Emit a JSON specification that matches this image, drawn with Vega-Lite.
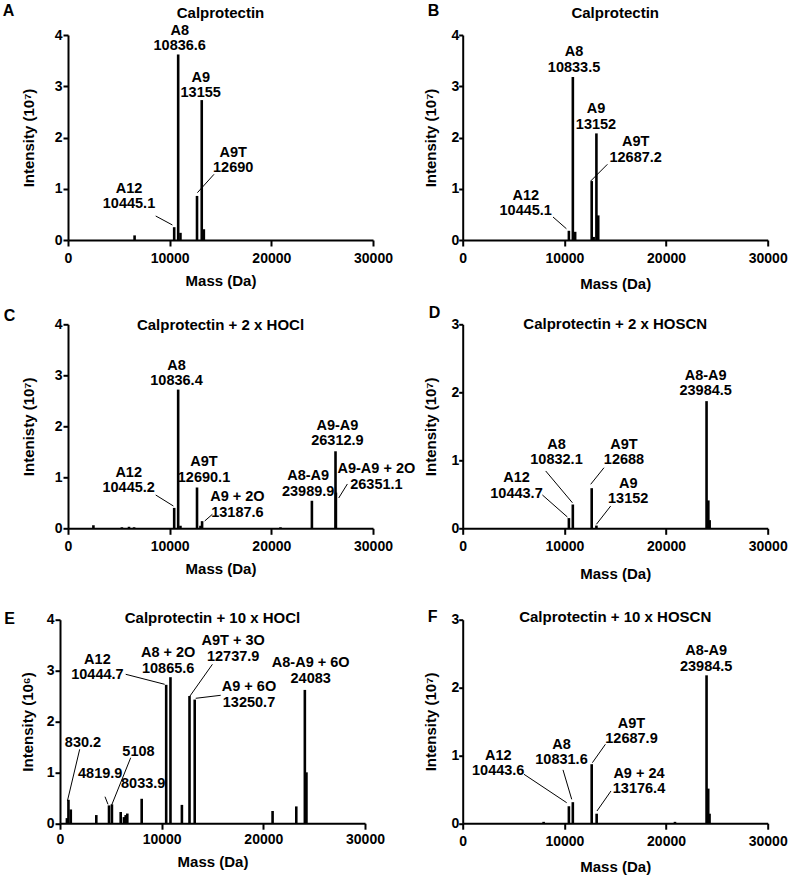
{
  "$schema": "https://vega.github.io/schema/vega-lite/v6.json",
  "padding": {"left": 2, "top": 2, "right": 2, "bottom": 2},
  "config": {
    "view": {"stroke": null},
    "font": "Liberation Sans",
    "axis": {"domainColor": "black", "domainWidth": 2, "tickColor": "black", "tickWidth": 2, "grid": false,
      "labelFont": "Liberation Sans", "labelFontSize": 14, "labelFontWeight": "bold", "labelColor": "black",
      "titleFont": "Liberation Sans", "titleFontSize": 15, "titleFontWeight": "bold", "titleColor": "black",
      "labelFlush": false, "labelOverlap": false},
    "axisX": {"tickSize": 6, "labelPadding": 5, "titlePadding": 8},
    "text": {"font": "Liberation Sans", "fontWeight": "bold", "fontSize": 14.5, "color": "black"}
  },
  "datasets": {
    "peaks": [
      {"panel": "A", "mass": 6550, "intensity": 0.09}, {"panel": "A", "mass": 10445, "intensity": 0.25}, {"panel": "A", "mass": 10837, "intensity": 3.62}, {"panel": "A", "mass": 11060, "intensity": 0.14}, {"panel": "A", "mass": 12690, "intensity": 0.86}, {"panel": "A", "mass": 13155, "intensity": 2.73}, {"panel": "A", "mass": 13360, "intensity": 0.21},
      {"panel": "B", "mass": 10445, "intensity": 0.18}, {"panel": "B", "mass": 10834, "intensity": 3.18}, {"panel": "B", "mass": 11060, "intensity": 0.16}, {"panel": "B", "mass": 12687, "intensity": 1.15}, {"panel": "B", "mass": 12880, "intensity": 0.06}, {"panel": "B", "mass": 13152, "intensity": 2.08}, {"panel": "B", "mass": 13330, "intensity": 0.48},
      {"panel": "C", "mass": 2500, "intensity": 0.06}, {"panel": "C", "mass": 5300, "intensity": 0.02}, {"panel": "C", "mass": 6000, "intensity": 0.03}, {"panel": "C", "mass": 6500, "intensity": 0.02}, {"panel": "C", "mass": 10445, "intensity": 0.4}, {"panel": "C", "mass": 10836, "intensity": 2.72}, {"panel": "C", "mass": 11060, "intensity": 0.05}, {"panel": "C", "mass": 12690, "intensity": 0.8}, {"panel": "C", "mass": 13030, "intensity": 0.05}, {"panel": "C", "mass": 13188, "intensity": 0.14}, {"panel": "C", "mass": 20900, "intensity": 0.02}, {"panel": "C", "mass": 23990, "intensity": 0.54}, {"panel": "C", "mass": 26313, "intensity": 1.51}, {"panel": "C", "mass": 26351, "intensity": 0.7},
      {"panel": "D", "mass": 10444, "intensity": 0.15}, {"panel": "D", "mass": 10832, "intensity": 0.35}, {"panel": "D", "mass": 12688, "intensity": 0.59}, {"panel": "D", "mass": 13152, "intensity": 0.04}, {"panel": "D", "mass": 23985, "intensity": 1.87}, {"panel": "D", "mass": 24160, "intensity": 0.41}, {"panel": "D", "mass": 24290, "intensity": 0.12},
      {"panel": "E", "mass": 680, "intensity": 0.1}, {"panel": "E", "mass": 830, "intensity": 0.46}, {"panel": "E", "mass": 1060, "intensity": 0.27}, {"panel": "E", "mass": 3570, "intensity": 0.16}, {"panel": "E", "mass": 4820, "intensity": 0.35}, {"panel": "E", "mass": 5108, "intensity": 0.37}, {"panel": "E", "mass": 5970, "intensity": 0.22}, {"panel": "E", "mass": 6290, "intensity": 0.12}, {"panel": "E", "mass": 6460, "intensity": 0.16}, {"panel": "E", "mass": 6620, "intensity": 0.19}, {"panel": "E", "mass": 8034, "intensity": 0.48}, {"panel": "E", "mass": 10445, "intensity": 2.72}, {"panel": "E", "mass": 10866, "intensity": 2.87}, {"panel": "E", "mass": 11990, "intensity": 0.36}, {"panel": "E", "mass": 12738, "intensity": 2.5}, {"panel": "E", "mass": 13251, "intensity": 2.43}, {"panel": "E", "mass": 20910, "intensity": 0.24}, {"panel": "E", "mass": 23240, "intensity": 0.33}, {"panel": "E", "mass": 24083, "intensity": 2.62}, {"panel": "E", "mass": 24240, "intensity": 1.0},
      {"panel": "F", "mass": 7960, "intensity": 0.02}, {"panel": "F", "mass": 10444, "intensity": 0.25}, {"panel": "F", "mass": 10832, "intensity": 0.31}, {"panel": "F", "mass": 12688, "intensity": 0.87}, {"panel": "F", "mass": 13176, "intensity": 0.14}, {"panel": "F", "mass": 20880, "intensity": 0.02}, {"panel": "F", "mass": 23985, "intensity": 2.18}, {"panel": "F", "mass": 24150, "intensity": 0.51}, {"panel": "F", "mass": 24280, "intensity": 0.14}
    ],
    "labels": [
      {"panel": "A", "mass": 10987, "intensity": 3.93, "label": "A8\n10836.6"},
      {"panel": "A", "mass": 13052, "intensity": 3.015, "label": "A9\n13155"},
      {"panel": "A", "mass": 16249, "intensity": 1.55, "label": "A9T\n12690"},
      {"panel": "A", "mass": 6000, "intensity": 0.849, "label": "A12\n10445.1"},
      {"panel": "B", "mass": 10949, "intensity": 3.508, "label": "A8\n10833.5"},
      {"panel": "B", "mass": 13111, "intensity": 2.4, "label": "A9\n13152"},
      {"panel": "B", "mass": 17016, "intensity": 1.756, "label": "A9T\n12687.2"},
      {"panel": "B", "mass": 6197, "intensity": 0.712, "label": "A12\n10445.1"},
      {"panel": "C", "mass": 10672, "intensity": 3.035, "label": "A8\n10836.4"},
      {"panel": "C", "mass": 13377, "intensity": 1.147, "label": "A9T\n12690.1"},
      {"panel": "C", "mass": 5970, "intensity": 0.933, "label": "A12\n10445.2"},
      {"panel": "C", "mass": 16662, "intensity": 0.457, "label": "A9 + 2O\n13187.6"},
      {"panel": "C", "mass": 23626, "intensity": 0.869, "label": "A8-A9\n23989.9"},
      {"panel": "C", "mass": 26498, "intensity": 1.859, "label": "A9-A9\n26312.9"},
      {"panel": "C", "mass": 30334, "intensity": 1.006, "label": "A9-A9 + 2O\n26351.1"},
      {"panel": "D", "mass": 23901, "intensity": 2.129, "label": "A8-A9\n23984.5"},
      {"panel": "D", "mass": 9226, "intensity": 1.112, "label": "A8\n10832.1"},
      {"panel": "D", "mass": 15865, "intensity": 1.112, "label": "A9T\n12688"},
      {"panel": "D", "mass": 5292, "intensity": 0.622, "label": "A12\n10443.7"},
      {"panel": "D", "mass": 16278, "intensity": 0.541, "label": "A9\n13152"},
      {"panel": "E", "mass": 3679, "intensity": 3.064, "label": "A12\n10444.7"},
      {"panel": "E", "mass": 10642, "intensity": 3.188, "label": "A8 + 2O\n10865.6"},
      {"panel": "E", "mass": 17036, "intensity": 3.424, "label": "A9T + 3O\n12737.9"},
      {"panel": "E", "mass": 24658, "intensity": 2.992, "label": "A8-A9 + 6O\n24083"},
      {"panel": "E", "mass": 18590, "intensity": 2.52, "label": "A9 + 6O\n13250.7"},
      {"panel": "E", "mass": 2262, "intensity": 1.57, "label": "830.2"},
      {"panel": "E", "mass": 7721, "intensity": 1.405, "label": "5108"},
      {"panel": "E", "mass": 3954, "intensity": 0.961, "label": "4819.9"},
      {"panel": "E", "mass": 8183, "intensity": 0.776, "label": "8033.9"},
      {"panel": "F", "mass": 23950, "intensity": 2.421, "label": "A8-A9\n23984.5"},
      {"panel": "F", "mass": 16603, "intensity": 1.352, "label": "A9T\n12687.9"},
      {"panel": "F", "mass": 9718, "intensity": 1.039, "label": "A8\n10831.6"},
      {"panel": "F", "mass": 3492, "intensity": 0.88, "label": "A12\n10443.6"},
      {"panel": "F", "mass": 17340, "intensity": 0.615, "label": "A9 + 24\n13176.4"}
    ],
    "leaders": [
      {"panel": "A", "m1": 8626, "i1": 0.468, "m2": 10269, "i2": 0.293},
      {"panel": "A", "m1": 14360, "i1": 1.282, "m2": 12727, "i2": 0.923},
      {"panel": "B", "m1": 8882, "i1": 0.449, "m2": 10200, "i2": 0.22},
      {"panel": "B", "m1": 14232, "i1": 1.477, "m2": 12590, "i2": 1.151},
      {"panel": "C", "m1": 8626, "i1": 0.653, "m2": 10367, "i2": 0.437},
      {"panel": "C", "m1": 14203, "i1": 0.275, "m2": 13446, "i2": 0.143},
      {"panel": "C", "m1": 27481, "i1": 0.869, "m2": 26625, "i2": 0.594},
      {"panel": "D", "m1": 7839, "i1": 0.49, "m2": 10298, "i2": 0.166},
      {"panel": "D", "m1": 8164, "i1": 0.843, "m2": 10790, "i2": 0.376},
      {"panel": "D", "m1": 13898, "i1": 0.891, "m2": 12590, "i2": 0.647},
      {"panel": "D", "m1": 14557, "i1": 0.328, "m2": 13150, "i2": 0.059},
      {"panel": "E", "m1": 6462, "i1": 2.927, "m2": 10298, "i2": 2.73},
      {"panel": "E", "m1": 14990, "i1": 3.123, "m2": 12786, "i2": 2.5},
      {"panel": "E", "m1": 15806, "i1": 2.514, "m2": 13347, "i2": 2.455},
      {"panel": "E", "m1": 1938, "i1": 1.453, "m2": 728, "i2": 0.436},
      {"panel": "E", "m1": 6954, "i1": 1.287, "m2": 5085, "i2": 0.358},
      {"panel": "E", "m1": 4426, "i1": 0.521, "m2": 4721, "i2": 0.371},
      {"panel": "F", "m1": 6029, "i1": 0.721, "m2": 10229, "i2": 0.302},
      {"panel": "F", "m1": 9867, "i1": 0.786, "m2": 10723, "i2": 0.352},
      {"panel": "F", "m1": 14036, "i1": 1.163, "m2": 12757, "i2": 0.892},
      {"panel": "F", "m1": 14586, "i1": 0.475, "m2": 13209, "i2": 0.18}
    ]
  },
  "spacing": 26.7,
  "vconcat": [
    {
      "spacing": -59,
      "hconcat": [
        {"width": 1, "height": 1, "data": {"values": [{}]}, "mark": {"type": "text", "text": ""}},
        {
          "spacing": 12.3,
          "vconcat": [
            {
              "spacing": 30.7,
              "hconcat": [
                {
                  "width": 305, "height": 205,
                  "layer": [
                    {"data": {"name": "peaks"}, "transform": [{"filter": {"field": "panel", "equal": "A"}}],
                     "mark": {"type": "rule", "color": "black", "strokeWidth": 2.6},
                     "encoding": {
                       "x": {"field": "mass", "type": "quantitative", "scale": {"domain": [0, 30000], "nice": false}, "axis": {"title": "Mass (Da)", "values": [0, 10000, 20000, 30000], "format": "d", "titlePadding": 8}},
                       "y": {"field": "intensity", "type": "quantitative", "scale": {"domain": [0, 4], "nice": false}, "axis": {"title": "Intensity (10⁷)", "values": [0, 1, 2, 3, 4], "format": "d", "tickSize": 5, "labelPadding": 1, "titlePadding": 18}},
                       "y2": {"datum": 0}}},
                    {"data": {"name": "leaders"}, "transform": [{"filter": {"field": "panel", "equal": "A"}}],
                     "mark": {"type": "rule", "color": "black", "strokeWidth": 1},
                     "encoding": {"x": {"field": "m1", "type": "quantitative"}, "y": {"field": "i1", "type": "quantitative"}, "x2": {"field": "m2"}, "y2": {"field": "i2"}}},
                    {"data": {"name": "labels"}, "transform": [{"filter": {"field": "panel", "equal": "A"}}, {"filter": "indexof(datum.label, '\\n') >= 0"}],
                     "mark": {"type": "text", "lineBreak": "\n", "lineHeight": 15.5, "align": "center", "baseline": "middle", "dy": -7.75},
                     "encoding": {"x": {"field": "mass", "type": "quantitative"}, "y": {"field": "intensity", "type": "quantitative"}, "text": {"field": "label"}}},
                    {"data": {"values": [{}]}, "mark": {"type": "text", "text": "Calprotectin", "fontSize": 15, "align": "center", "baseline": "alphabetic"},
                     "encoding": {"x": {"datum": 15000, "type": "quantitative"}, "y": {"datum": 4.326, "type": "quantitative"}}},
                    {"data": {"values": [{}]}, "mark": {"type": "text", "text": "A", "fontSize": 16, "align": "left", "baseline": "alphabetic"},
                     "encoding": {"x": {"datum": -6423, "type": "quantitative"}, "y": {"datum": 4.371, "type": "quantitative"}}}
                  ]
                },
                {
                  "width": 305, "height": 205,
                  "layer": [
                    {"data": {"name": "peaks"}, "transform": [{"filter": {"field": "panel", "equal": "B"}}],
                     "mark": {"type": "rule", "color": "black", "strokeWidth": 2.6},
                     "encoding": {
                       "x": {"field": "mass", "type": "quantitative", "scale": {"domain": [0, 30000], "nice": false}, "axis": {"title": "Mass (Da)", "values": [0, 10000, 20000, 30000], "format": "d", "titlePadding": 11.4}},
                       "y": {"field": "intensity", "type": "quantitative", "scale": {"domain": [0, 4], "nice": false}, "axis": {"title": "Intensity (10⁷)", "values": [0, 1, 2, 3, 4], "format": "d", "tickSize": 4, "labelPadding": 0, "titlePadding": 12}},
                       "y2": {"datum": 0}}},
                    {"data": {"name": "leaders"}, "transform": [{"filter": {"field": "panel", "equal": "B"}}],
                     "mark": {"type": "rule", "color": "black", "strokeWidth": 1},
                     "encoding": {"x": {"field": "m1", "type": "quantitative"}, "y": {"field": "i1", "type": "quantitative"}, "x2": {"field": "m2"}, "y2": {"field": "i2"}}},
                    {"data": {"name": "labels"}, "transform": [{"filter": {"field": "panel", "equal": "B"}}, {"filter": "indexof(datum.label, '\\n') >= 0"}],
                     "mark": {"type": "text", "lineBreak": "\n", "lineHeight": 15.5, "align": "center", "baseline": "middle", "dy": -7.75},
                     "encoding": {"x": {"field": "mass", "type": "quantitative"}, "y": {"field": "intensity", "type": "quantitative"}, "text": {"field": "label"}}},
                    {"data": {"values": [{}]}, "mark": {"type": "text", "text": "Calprotectin", "fontSize": 15, "align": "center", "baseline": "alphabetic"},
                     "encoding": {"x": {"datum": 15000, "type": "quantitative"}, "y": {"datum": 4.326, "type": "quantitative"}}},
                    {"data": {"values": [{}]}, "mark": {"type": "text", "text": "B", "fontSize": 16, "align": "left", "baseline": "alphabetic"},
                     "encoding": {"x": {"datum": -3443, "type": "quantitative"}, "y": {"datum": 4.371, "type": "quantitative"}}}
                  ]
                }
              ]
            },
            {
              "spacing": 7.7,
              "hconcat": [
                {
                  "width": 305, "height": 204,
                  "layer": [
                    {"data": {"name": "peaks"}, "transform": [{"filter": {"field": "panel", "equal": "C"}}],
                     "mark": {"type": "rule", "color": "black", "strokeWidth": 2.6},
                     "encoding": {
                       "x": {"field": "mass", "type": "quantitative", "scale": {"domain": [0, 30000], "nice": false}, "axis": {"title": "Mass (Da)", "values": [0, 10000, 20000, 30000], "format": "d", "titlePadding": 8}},
                       "y": {"field": "intensity", "type": "quantitative", "scale": {"domain": [0, 4], "nice": false}, "axis": {"title": "Intenisty (10⁷)", "values": [0, 1, 2, 3, 4], "format": "d", "tickSize": 5, "labelPadding": 1, "titlePadding": 18}},
                       "y2": {"datum": 0}}},
                    {"data": {"name": "leaders"}, "transform": [{"filter": {"field": "panel", "equal": "C"}}],
                     "mark": {"type": "rule", "color": "black", "strokeWidth": 1},
                     "encoding": {"x": {"field": "m1", "type": "quantitative"}, "y": {"field": "i1", "type": "quantitative"}, "x2": {"field": "m2"}, "y2": {"field": "i2"}}},
                    {"data": {"name": "labels"}, "transform": [{"filter": {"field": "panel", "equal": "C"}}, {"filter": "indexof(datum.label, '\\n') >= 0"}],
                     "mark": {"type": "text", "lineBreak": "\n", "lineHeight": 15.5, "align": "center", "baseline": "middle", "dy": -7.75},
                     "encoding": {"x": {"field": "mass", "type": "quantitative"}, "y": {"field": "intensity", "type": "quantitative"}, "text": {"field": "label"}}},
                    {"data": {"values": [{}]}, "mark": {"type": "text", "text": "Calprotectin + 2 x HOCl", "fontSize": 15, "align": "center", "baseline": "alphabetic"},
                     "encoding": {"x": {"datum": 15000, "type": "quantitative"}, "y": {"datum": 3.888, "type": "quantitative"}}},
                    {"data": {"values": [{}]}, "mark": {"type": "text", "text": "C", "fontSize": 16, "align": "left", "baseline": "alphabetic"},
                     "encoding": {"x": {"datum": -6324, "type": "quantitative"}, "y": {"datum": 4.055, "type": "quantitative"}}}
                  ]
                },
                {
                  "width": 305, "height": 204,
                  "layer": [
                    {"data": {"name": "peaks"}, "transform": [{"filter": {"field": "panel", "equal": "D"}}],
                     "mark": {"type": "rule", "color": "black", "strokeWidth": 2.6},
                     "encoding": {
                       "x": {"field": "mass", "type": "quantitative", "scale": {"domain": [0, 30000], "nice": false}, "axis": {"title": "Mass (Da)", "values": [0, 10000, 20000, 30000], "format": "d", "titlePadding": 13}},
                       "y": {"field": "intensity", "type": "quantitative", "scale": {"domain": [0, 3], "nice": false}, "axis": {"title": "Intensity (10⁷)", "values": [0, 1, 2, 3], "format": "d", "tickSize": 4, "labelPadding": 0, "titlePadding": 12}},
                       "y2": {"datum": 0}}},
                    {"data": {"name": "leaders"}, "transform": [{"filter": {"field": "panel", "equal": "D"}}],
                     "mark": {"type": "rule", "color": "black", "strokeWidth": 1},
                     "encoding": {"x": {"field": "m1", "type": "quantitative"}, "y": {"field": "i1", "type": "quantitative"}, "x2": {"field": "m2"}, "y2": {"field": "i2"}}},
                    {"data": {"name": "labels"}, "transform": [{"filter": {"field": "panel", "equal": "D"}}, {"filter": "indexof(datum.label, '\\n') >= 0"}],
                     "mark": {"type": "text", "lineBreak": "\n", "lineHeight": 15.5, "align": "center", "baseline": "middle", "dy": -7.75},
                     "encoding": {"x": {"field": "mass", "type": "quantitative"}, "y": {"field": "intensity", "type": "quantitative"}, "text": {"field": "label"}}},
                    {"data": {"values": [{}]}, "mark": {"type": "text", "text": "Calprotectin + 2 x HOSCN", "fontSize": 15, "align": "center", "baseline": "alphabetic"},
                     "encoding": {"x": {"datum": 15000, "type": "quantitative"}, "y": {"datum": 2.938, "type": "quantitative"}}},
                    {"data": {"values": [{}]}, "mark": {"type": "text", "text": "D", "fontSize": 16, "align": "left", "baseline": "alphabetic"},
                     "encoding": {"x": {"datum": -3344, "type": "quantitative"}, "y": {"datum": 3.093, "type": "quantitative"}}}
                  ]
                }
              ]
            }
          ]
        }
      ]
    },
    {
      "spacing": 38.7,
      "hconcat": [
        {
          "width": 305, "height": 203.5,
          "layer": [
            {"data": {"name": "peaks"}, "transform": [{"filter": {"field": "panel", "equal": "E"}}],
             "mark": {"type": "rule", "color": "black", "strokeWidth": 2.6},
             "encoding": {
               "x": {"field": "mass", "type": "quantitative", "scale": {"domain": [0, 30000], "nice": false}, "axis": {"title": "Mass (Da)", "values": [0, 10000, 20000, 30000], "format": "d", "labelPadding": 3, "titlePadding": 8.5}},
               "y": {"field": "intensity", "type": "quantitative", "scale": {"domain": [0, 4], "nice": false}, "axis": {"title": "Intensity (10⁶)", "values": [0, 1, 2, 3, 4], "format": "d", "tickSize": 5, "labelPadding": 1, "titlePadding": 10.5}},
               "y2": {"datum": 0}}},
            {"data": {"name": "leaders"}, "transform": [{"filter": {"field": "panel", "equal": "E"}}],
             "mark": {"type": "rule", "color": "black", "strokeWidth": 1},
             "encoding": {"x": {"field": "m1", "type": "quantitative"}, "y": {"field": "i1", "type": "quantitative"}, "x2": {"field": "m2"}, "y2": {"field": "i2"}}},
            {"data": {"name": "labels"}, "transform": [{"filter": {"field": "panel", "equal": "E"}}, {"filter": "indexof(datum.label, '\\n') >= 0"}],
             "mark": {"type": "text", "lineBreak": "\n", "lineHeight": 15.5, "align": "center", "baseline": "middle", "dy": -7.75},
             "encoding": {"x": {"field": "mass", "type": "quantitative"}, "y": {"field": "intensity", "type": "quantitative"}, "text": {"field": "label"}}},
            {"data": {"name": "labels"}, "transform": [{"filter": {"field": "panel", "equal": "E"}}, {"filter": "indexof(datum.label, '\\n') < 0"}],
             "mark": {"type": "text", "align": "center", "baseline": "middle"},
             "encoding": {"x": {"field": "mass", "type": "quantitative"}, "y": {"field": "intensity", "type": "quantitative"}, "text": {"field": "label"}}},
            {"data": {"values": [{}]}, "mark": {"type": "text", "text": "Calprotectin + 10 x HOCl", "fontSize": 15, "align": "center", "baseline": "alphabetic"},
             "encoding": {"x": {"datum": 15000, "type": "quantitative"}, "y": {"datum": 3.935, "type": "quantitative"}}},
            {"data": {"values": [{}]}, "mark": {"type": "text", "text": "E", "fontSize": 16, "align": "left", "baseline": "alphabetic"},
             "encoding": {"x": {"datum": -5488, "type": "quantitative"}, "y": {"datum": 3.91, "type": "quantitative"}}}
          ]
        },
        {
          "width": 305, "height": 203.5,
          "layer": [
            {"data": {"name": "peaks"}, "transform": [{"filter": {"field": "panel", "equal": "F"}}],
             "mark": {"type": "rule", "color": "black", "strokeWidth": 2.6},
             "encoding": {
               "x": {"field": "mass", "type": "quantitative", "scale": {"domain": [0, 30000], "nice": false}, "axis": {"title": "Mass (Da)", "values": [0, 10000, 20000, 30000], "format": "d", "titlePadding": 10.8}},
               "y": {"field": "intensity", "type": "quantitative", "scale": {"domain": [0, 3], "nice": false}, "axis": {"title": "Intensity (10⁷)", "values": [0, 1, 2, 3], "format": "d", "tickSize": 4, "labelPadding": 0, "titlePadding": 12}},
               "y2": {"datum": 0}}},
            {"data": {"name": "leaders"}, "transform": [{"filter": {"field": "panel", "equal": "F"}}],
             "mark": {"type": "rule", "color": "black", "strokeWidth": 1},
             "encoding": {"x": {"field": "m1", "type": "quantitative"}, "y": {"field": "i1", "type": "quantitative"}, "x2": {"field": "m2"}, "y2": {"field": "i2"}}},
            {"data": {"name": "labels"}, "transform": [{"filter": {"field": "panel", "equal": "F"}}, {"filter": "indexof(datum.label, '\\n') >= 0"}],
             "mark": {"type": "text", "lineBreak": "\n", "lineHeight": 15.5, "align": "center", "baseline": "middle", "dy": -7.75},
             "encoding": {"x": {"field": "mass", "type": "quantitative"}, "y": {"field": "intensity", "type": "quantitative"}, "text": {"field": "label"}}},
            {"data": {"values": [{}]}, "mark": {"type": "text", "text": "Calprotectin + 10 x HOSCN", "fontSize": 15, "align": "center", "baseline": "alphabetic"},
             "encoding": {"x": {"datum": 15000, "type": "quantitative"}, "y": {"datum": 2.971, "type": "quantitative"}}},
            {"data": {"values": [{}]}, "mark": {"type": "text", "text": "F", "fontSize": 16, "align": "left", "baseline": "alphabetic"},
             "encoding": {"x": {"datum": -3443, "type": "quantitative"}, "y": {"datum": 2.966, "type": "quantitative"}}}
          ]
        }
      ]
    }
  ]
}
